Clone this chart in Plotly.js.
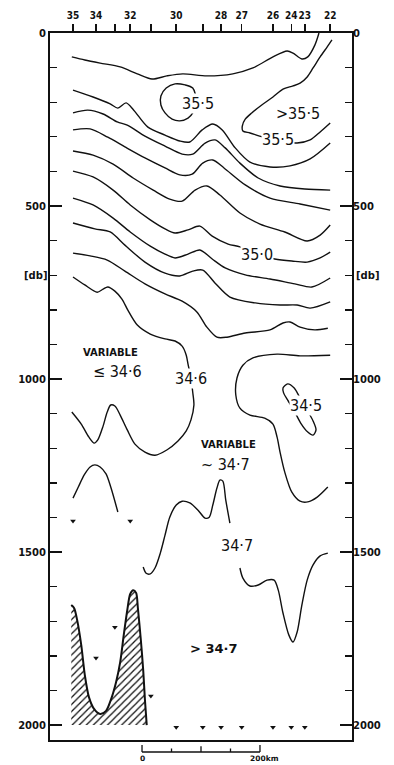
<!DOCTYPE html>
<html><head><meta charset="utf-8">
<script src="https://cdn.plot.ly/plotly-3.0.1.min.js"></script>
<style>html,body{margin:0;padding:0;background:#fff}</style>
</head><body><div id="chart" style="width:394px;height:765px"></div>
<script>
// ---- stations (distance along section, km) ----
const stationKm = [-117,-78,-46,-20,15,58,103,134,169,222,253,276,319];
const stationLabels = ['35','34','','32','','30','','28','27','26','24','23','22'];
const stationBottomDb = [1410,1806,1717,1410,1916,2006,2006,2006,2006,2006,2006,2006,null];

// ---- salinity isolines: distance (km) / pressure (db) ----
const iso1Km = [-119,-97,-71,-37,-8,17,42,69,110,154,188,222,246,256,271,281,293,300];
const iso1Db = [69,78,87,98,118,133,124,118,124,118,101,69,52,58,75,69,35,0];
const loop355Km = [86,73,56,41,32,32,39,51,64,78,86,92,86];
const loop355Db = [159,150,147,159,182,208,231,249,254,246,231,194,159];
const open355Km = [322,314,302,290,280,268,256,239,222,203,186,175,170,171,183,205,234,263,285,302,319];
const open355Db = [20,40,69,101,127,145,153,162,185,208,231,249,269,283,289,301,312,318,309,286,260];
const iso354Km = [-117,-83,-54,-41,-27,-14,10,39,64,81,102,120,136,158,183,217,251,285,319];
const iso354Db = [165,185,205,217,202,223,272,295,312,315,280,263,280,332,373,387,384,364,318];
const iso353Km = [-117,-92,-66,-42,-25,5,39,68,86,107,124,141,166,197,234,276,319];
const iso353Db = [231,223,234,257,266,298,327,350,350,318,309,332,376,419,442,451,454];
const iso352Km = [-117,-88,-58,-29,5,39,64,85,103,120,139,175,217,268,319];
const iso352Db = [280,277,301,329,361,390,410,408,376,367,390,439,477,494,512];
const iso351Km = [-117,-83,-49,-15,19,47,68,90,110,132,166,200,242,280,302,319];
const iso351Db = [341,353,379,419,454,480,486,454,442,468,520,552,575,601,584,555];
const iso350Km = [-117,-83,-49,-20,14,39,56,78,98,119,146,166,195,225,254,280,302,319];
const iso350Db = [399,416,454,497,540,566,578,569,558,587,610,618,640,653,659,662,650,633];
const iso349Km = [-117,-83,-49,-20,14,39,56,78,98,119,141,175,217,259,288,319];
const iso349Db = [477,497,535,575,616,639,650,639,627,653,679,699,711,725,734,708];
const iso348Km = [-117,-80,-54,-29,5,39,64,86,103,124,149,192,234,263,285,319];
const iso348Db = [549,566,575,613,662,694,702,688,685,723,763,780,786,786,795,777];
const iso347Km = [-117,-88,-59,-29,5,39,68,93,110,127,144,175,217,239,251,268,293,315];
const iso347Db = [636,644,656,688,725,754,775,806,850,879,879,867,858,838,835,850,858,853];
const iso346Km = [-117,-97,-76,-66,-58,-46,-34,-24,-8,14,39,56,68,75,78,83,86,88,83,75,61,42,22,5,-12,-25,-37,-46,-53,-59,-66,-75,-81,-90,-103,-119];
const iso346Db = [705,728,749,740,734,746,769,801,844,870,884,890,905,931,957,997,1038,1075,1118,1150,1179,1205,1220,1211,1188,1147,1104,1078,1075,1095,1136,1176,1185,1168,1130,1095];
const rightKm = [319,268,229,188,171,161,159,166,183,208,222,229,234,242,254,268,281,297,315];
const rightDb = [931,933,928,939,960,997,1046,1084,1104,1113,1130,1168,1211,1269,1327,1353,1355,1341,1312];
const loop345Km = [239,247,258,268,280,290,295,290,281,269,258,247,240,239];
const loop345Db = [1026,1014,1026,1055,1090,1121,1147,1162,1153,1127,1092,1061,1040,1026];
const archKm = [-117,-108,-98,-88,-80,-71,-61,-53,-41];
const archDb = [1344,1312,1277,1254,1248,1254,1274,1312,1384];
const midKm = [2,7,14,22,31,39,47,58,68,81,95,107,114,120,127,132,137,142,149];
const midDb = [1543,1561,1563,1546,1503,1451,1399,1364,1353,1358,1379,1402,1399,1364,1315,1292,1295,1350,1416];
const lowKm = [166,171,183,197,212,224,231,239,249,256,263,271,280,290,302,315];
const lowDb = [1546,1575,1598,1595,1581,1581,1610,1676,1740,1760,1731,1653,1581,1537,1511,1503];

// ---- sea floor (hatched) ----
const bathKm = [-120,-115,-110,-103,-97,-90,-81,-71,-61,-53,-44,-37,-31,-25,-20,-15,-10,-7,-2,2,5,8];
const bathDb = [1653,1662,1696,1769,1855,1919,1954,1968,1959,1928,1876,1818,1740,1668,1621,1610,1618,1662,1754,1841,1928,2000];

// ---- labels ----
const labelText = ['35·5','>35·5','35·5','35·0','34·6','VARIABLE','≤ 34·6','34·5','VARIABLE','~ 34·7','34·7','> 34·7'];
const labelKm = [95,264,231,195,83,-53,-42,278,147,142,161,122];
const labelDb = [205,234,309,639,997,922,977,1075,1188,1246,1480,1780];
const labelMask = [true,false,true,true,true,false,false,true,false,false,false,false];
const labelStyle = ['c','c','c','c','c','v','c','c','v','c','c','b'];

const yTicks = [0,500,1000,1500,2000];
const scaleKm = [0,50,100,150,200];

const INK = '#111';
const X_RANGE = [-156,356];
const Y_RANGE = [2043,0];

function iso(x, y, w) {
  return {x:x, y:y, type:'scatter', mode:'lines', hoverinfo:'skip',
    line:{color:INK, width:w||1.4, shape:'spline', smoothing:0.8}, showlegend:false};
}

const traces = [
  {x:bathKm.concat([bathKm[0]]), y:bathDb.concat([2000]), type:'scatter', mode:'lines',
   fill:'toself', fillcolor:'#fff', line:{width:0, color:INK},
   fillpattern:{shape:'/', fgcolor:INK, bgcolor:'#fff', size:5, solidity:0.25},
   hoverinfo:'skip', showlegend:false},
  iso(bathKm, bathDb, 2),
  iso(iso1Km, iso1Db), iso(loop355Km, loop355Db), iso(open355Km, open355Db),
  iso(iso354Km, iso354Db), iso(iso353Km, iso353Db), iso(iso352Km, iso352Db),
  iso(iso351Km, iso351Db), iso(iso350Km, iso350Db), iso(iso349Km, iso349Db),
  iso(iso348Km, iso348Db), iso(iso347Km, iso347Db), iso(iso346Km, iso346Db),
  iso(rightKm, rightDb), iso(loop345Km, loop345Db), iso(archKm, archDb),
  iso(midKm, midDb), iso(lowKm, lowDb),
  {x:stationKm, y:stationBottomDb, type:'scatter', mode:'markers', cliponaxis:false,
   marker:{symbol:'triangle-down', size:5, color:INK}, hoverinfo:'skip', showlegend:false},
  {x:[stationKm[0]], y:[0], xaxis:'x2', yaxis:'y2', type:'scatter', mode:'markers',
   marker:{size:1, opacity:0}, hoverinfo:'skip', showlegend:false}
];

const tickFont = {family:'DejaVu Sans, sans-serif', size:10, color:INK, weight:'bold'};
const topFont = {family:'DejaVu Sans Condensed, DejaVu Sans, sans-serif', size:10, color:INK, weight:'bold'};
const labelFonts = {
  c:{family:'DejaVu Sans Condensed, Liberation Sans Narrow, sans-serif', size:16, color:INK},
  v:{family:'DejaVu Sans, sans-serif', size:10, color:INK, weight:'bold'},
  b:{family:'DejaVu Sans, sans-serif', size:13, color:INK, weight:'bold'}
};
const scaleFont = {family:'DejaVu Sans, sans-serif', size:7.5, color:INK, weight:'bold'};

const annotations = labelText.map((t,i)=>({
  x:labelKm[i], y:labelDb[i], xref:'x', yref:'y', text:t, showarrow:false,
  font:labelFonts[labelStyle[i]], bgcolor: labelMask[i] ? '#fff' : 'rgba(0,0,0,0)', borderpad:0
}));
annotations.push({xref:'paper', yref:'y', x:-0.093, y:700, text:'[db]', showarrow:false, font:tickFont});
annotations.push({xref:'paper', yref:'y', x:1.096, y:700, text:'[db]', showarrow:false, font:tickFont});
annotations.push({xref:'x', yref:'paper', x:scaleKm[0], y:-0.0345, yanchor:'bottom', text:'0', showarrow:false,
  font:scaleFont, borderpad:0});
annotations.push({xref:'x', yref:'paper', x:scaleKm[scaleKm.length-1], y:-0.0345, yanchor:'bottom', xanchor:'left', xshift:-11,
  text:'200km', showarrow:false, font:scaleFont, borderpad:0});

const shapes = [];
const barY = -0.017;
shapes.push({type:'line', xref:'x', yref:'paper', x0:scaleKm[0], x1:scaleKm[scaleKm.length-1], y0:barY, y1:barY, line:{color:INK, width:1.5}});
scaleKm.forEach((k,i)=>{
  const end = (i===0 || i===scaleKm.length-1);
  const mid = (i===2);
  shapes.push({type:'line', xref:'x', yref:'paper', x0:k, x1:k, y0:barY, y1: barY + (end ? 0.010 : (mid ? 0.008 : 0.005)), line:{color:INK, width:1.3}});
});

const yBase = {range:Y_RANGE, tickvals:yTicks, ticks:'inside', ticklen:12, tickwidth:1.5, tickcolor:INK,
  showgrid:false, zeroline:false, tickfont:tickFont,
  minor:{dtick:100, tick0:0, ticks:'inside', ticklen:7, tickwidth:1.3, tickcolor:INK, showgrid:false}};

const layout = {
  width:394, height:765, margin:{l:50, r:42, t:33, b:25},
  paper_bgcolor:'#fff', plot_bgcolor:'#fff', showlegend:false,
  xaxis:{range:X_RANGE, showline:true, mirror:true, linewidth:2, linecolor:INK,
         showticklabels:false, ticks:'', showgrid:false, zeroline:false},
  xaxis2:{range:X_RANGE, overlaying:'x', side:'top', tickvals:stationKm, ticktext:stationLabels,
          ticks:'outside', ticklen:8, tickwidth:1.5, tickcolor:INK, showline:false, showgrid:false,
          zeroline:false, tickfont:topFont, tickangle:0, ticklabelstandoff:1},
  yaxis:Object.assign({}, yBase, {showline:true, mirror:true, linewidth:2, linecolor:INK}),
  yaxis2:Object.assign({}, yBase, {overlaying:'y', side:'right', showline:false}),
  annotations:annotations, shapes:shapes
};

Plotly.newPlot('chart', traces, layout, {staticPlot:true, displayModeBar:false});
</script></body></html>
